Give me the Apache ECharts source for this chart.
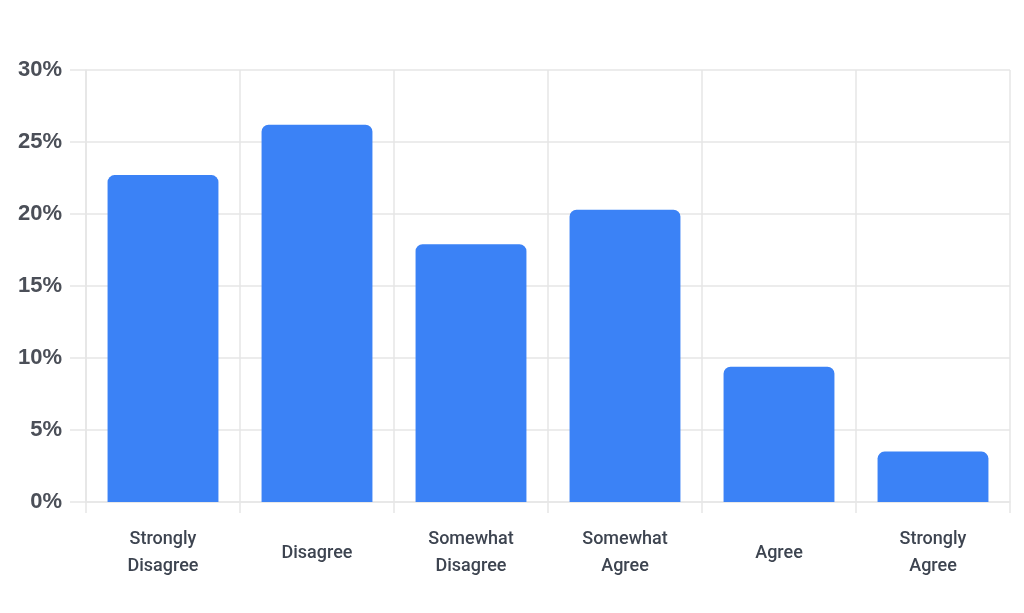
<!DOCTYPE html>
<html><head><meta charset="utf-8">
<script src="https://cdn.jsdelivr.net/npm/echarts@6/dist/echarts.min.js"></script>
<style>html,body{margin:0;padding:0;background:#fff}#c{width:1024px;height:613px}</style>
</head><body><div id="c"></div>
<script>
const categories = ["Strongly\nDisagree", "Disagree", "Somewhat\nDisagree", "Somewhat\nAgree", "Agree", "Strongly\nAgree"];
const values = [22.7, 26.2, 17.9, 20.3, 9.4, 3.5];
const yTicks = [0, 5, 10, 15, 20, 25, 30];

const gridColor = '#e6e6e6';
const chart = echarts.init(document.getElementById('c'));
chart.setOption({
  animation: false,
  grid: { left: 86, right: 14, top: 70, bottom: 111, containLabel: false },
  xAxis: {
    type: 'category',
    data: categories,
    boundaryGap: true,
    axisLine: { show: true, lineStyle: { color: gridColor, width: 1.5 } },
    axisTick: { show: true, length: 11, lineStyle: { color: gridColor, width: 1.5 } },
    splitLine: { show: true, lineStyle: { color: gridColor, width: 1.5 } },
    axisLabel: {
      margin: 51, verticalAlign: 'middle', lineHeight: 27,
      fontFamily: 'Roboto', fontWeight: 500, fontSize: 18, color: '#3d4450', interval: 0
    }
  },
  yAxis: {
    type: 'value',
    min: yTicks[0], max: yTicks[yTicks.length - 1], interval: 5,
    axisLine: { show: true, lineStyle: { color: gridColor, width: 1.5 } },
    axisTick: { show: true, length: 16, lineStyle: { color: gridColor, width: 1.5 } },
    splitLine: { show: true, lineStyle: { color: gridColor, width: 1.5 } },
    axisLabel: {
      margin: 24, formatter: v => v + '%',
      fontFamily: 'Liberation Sans', fontWeight: 'bold', fontSize: 22, color: '#4b4f58'
    }
  },
  series: [{
    type: 'bar',
    data: values,
    barWidth: '72%',
    itemStyle: { color: '#3b82f6', borderRadius: [7, 7, 0, 0] }
  }]
});
</script></body></html>
